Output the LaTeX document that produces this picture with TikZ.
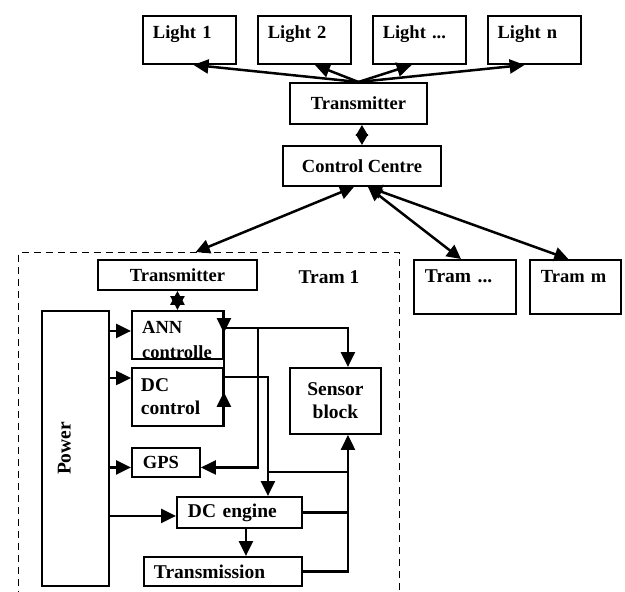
\documentclass[tikz,border=0pt]{standalone}
\usepackage{fontspec}
\setmainfont{Liberation Serif}
\usetikzlibrary{arrows.meta,positioning}

\begin{document}
\begin{tikzpicture}[x=1pt,y=-1pt,
    every node/.style={font=\bfseries\fontsize{18.5}{22.5}\selectfont,inner sep=0pt},
    big/.style={font=\bfseries\fontsize{19.5}{23}\selectfont},
    box/.style={draw,line width=1.9pt,anchor=north west},
    lightbox/.style={box,minimum width=93pt,minimum height=48pt,text width=73pt,align=left,text height=23pt,text depth=25pt},
    trambox/.style={box,minimum height=54pt,align=left,text height=23pt,text depth=31pt},
    frame/.style={draw,line width=1.4pt,dash pattern=on 7pt off 5pt,anchor=north west},
    link/.style={line width=2.5pt},
    arr/.style={link,-{Triangle[length=15pt,width=14pt]}},
    darr/.style={link,{Triangle[length=14pt,width=14pt]}-{Triangle[length=14pt,width=14pt]}},
    diam/.style={link,{Triangle[length=11pt,width=12pt]}-{Triangle[length=11pt,width=12pt]}},
    node distance=20pt
    ]
    \useasboundingbox (0,0) rectangle (625,592);

    % lights and control centre
    \node (l1) [lightbox] at (142,15) {Light 1};
    \node (l2) [lightbox,right=of l1] {Light 2};
    \node (l3) [lightbox,right=of l2] {Light ...};
    \node (l4) [lightbox,right=of l3] {Light n};
    \node (tx) [box,minimum width=137pt,minimum height=41pt] at (289,82) {Transmitter};
    \node (cc) [box,minimum width=158pt,minimum height=40pt] at (282,145) {Control Centre};

    % trams
    \node (tramone) [frame,minimum width=381pt,minimum height=352pt] at (18,252) {};
    \node (tr2) [trambox,big,minimum width=102pt,text width=80pt] at (413,259) {Tram ...};
    \node (trm) [trambox,minimum width=91pt,text width=69pt,right=12pt of tr2] {Tram m};
    \node (tram1lbl) [big,anchor=base] at (329,283) {Tram 1};

    % inside tram 1
    \node (ttx) [box,minimum width=159pt,minimum height=30pt] at (97,259) {Transmitter};
    \node (pow) [box,minimum width=67pt,minimum height=275pt] at (41,310) {};
    \node (powtxt) [big,rotate=90] at ([xshift=-11pt]pow.center) {Power};
    \node (ann) [box,minimum width=91pt,minimum height=48pt] at (131,310) {};
    \begin{scope}
        \clip (ann.north west) rectangle (ann.south east);
        \node (anntxt) [anchor=north west,align=left] at ([xshift=11pt,yshift=-11pt]ann.north west) {ANN\\[3pt]controlle};
    \end{scope}
    \node (dcc) [box,big,minimum width=91pt,minimum height=58pt,text width=73pt,align=left] at (131,367) {DC\\control};
    \node (gps) [box,minimum width=68pt,minimum height=29pt,text width=46pt,align=left] at (131,447) {GPS};
    \node (eng) [box,big,minimum width=125pt,minimum height=31pt,text width=103pt,align=left] at (176,496) {DC engine};
    \node (trn) [box,big,minimum width=158pt,minimum height=29pt,text width=138pt,align=left] at (143,556) {Transmission};
    \node (sen) [box,big,minimum width=91pt,minimum height=66pt,align=center] at (289,367) {Sensor\\block};

    % points on the boxes
    \coordinate (annin) at ([yshift=4pt]ann.west);
    \coordinate (dccin) at ([yshift=-11pt]dcc.north west);
    \coordinate (gpsin) at ([yshift=-5pt]gps.west);
    \coordinate (engleft) at ([yshift=-3.5pt]eng.west);
    \coordinate (annout) at ([yshift=-18pt]ann.north east);
    \coordinate (anndown) at ([yshift=-23pt]ann.north east);
    \coordinate (dccup) at ([yshift=35pt]dcc.south east);
    \coordinate (dccout) at ([yshift=-10pt]dcc.north east);
    \coordinate (br1) at ([xshift=34pt]annout);
    \coordinate (gpsback) at ([yshift=-5pt]gps.east);
    \coordinate (engin) at ([xshift=28.5pt]eng.north);
    \coordinate (fb) at ([yshift=24pt]engin);
    \coordinate (engdown) at ([xshift=6.5pt]eng.south);
    \coordinate (senin) at ([xshift=12.5pt]sen.north);
    \coordinate (senback) at ([xshift=12.5pt]sen.south);

    % the edges
    \draw[arr] (tx.north) -- ([xshift=4pt]l1.south);
    \draw[arr] (tx.north) -- ([xshift=10.5pt]l2.south);
    \draw[arr] (tx.north) -- ([xshift=-7.5pt]l3.south);
    \draw[arr] (tx.north) -- ([xshift=-9.5pt]l4.south);
    \draw[diam] (cc.north |- tx.south) -- (cc.north);
    \draw[darr] ([xshift=-8pt]cc.south) -- ([xshift=-13.5pt]tramone.north);
    \draw[darr] ([xshift=6pt]cc.south) -- ([xshift=-4pt]tr2.north);
    \draw[darr] ([xshift=6pt]cc.south) -- ([xshift=-7pt]trm.north);
    \draw[darr] (ttx.south) -- (ann.north);

    \draw[arr] (pow.east |- annin) -- (annin);
    \draw[arr] (pow.east |- dccin) -- (dccin);
    \draw[arr] (pow.east |- gpsin) -- (gpsin);
    \draw[arr] (pow.east |- engleft) -- (engleft);

    \draw[link] (ann.north east) -- (dcc.south east);
    \draw[arr] (ann.north east) -- (anndown);
    \draw[arr] (dcc.south east) -- (dccup);
    \draw[arr] (annout) -| (senin);
    \draw[arr] (br1) |- (gpsback);
    \draw[arr] (dccout) -| (engin);
    \draw[link] (fb) -- (fb -| senback);
    \draw[link] (eng.east) -- (eng.east -| senback);
    \draw[arr] (trn.east) -| (senback);
    \draw[arr] (engdown) -- (engdown |- trn.north);
\end{tikzpicture}
\end{document}
